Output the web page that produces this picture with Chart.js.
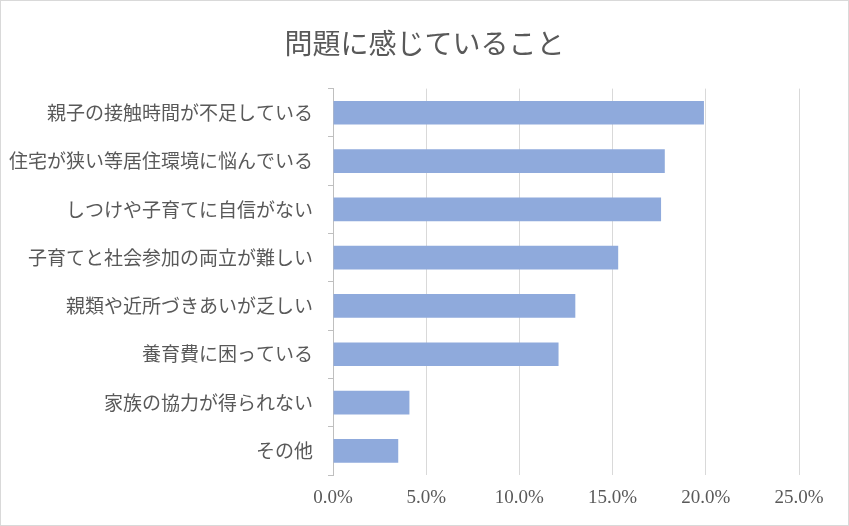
<!DOCTYPE html>
<html>
<head>
<meta charset="utf-8">
<script src="https://cdn.jsdelivr.net/npm/chart.js@4"></script>
<style>
  body { margin: 0; background: #fff; }
  #wrap { width: 849px; height: 526px; }
</style>
</head>
<body>
<div id="wrap"><canvas id="problemChart" width="849" height="526"></canvas></div>
<script>
// 問題に感じていること - horizontal bar chart
const categories = [
  "親子の接触時間が不足している",
  "住宅が狭い等居住環境に悩んでいる",
  "しつけや子育てに自信がない",
  "子育てと社会参加の両立が難しい",
  "親類や近所づきあいが乏しい",
  "養育費に困っている",
  "家族の協力が得られない",
  "その他",
];
const percentValues = [19.9, 17.8, 17.6, 15.3, 13.0, 12.1, 4.1, 3.5];
const tickMax = 25;
const tickStep = 5;

const textColor = "#595959";
const jpFont = "'Noto Sans CJK JP', sans-serif";

// white background and thin frame around the whole chart
const frame = {
  id: "frame",
  beforeDraw(chart) {
    const ctx = chart.ctx;
    ctx.save();
    ctx.fillStyle = "#ffffff";
    ctx.fillRect(0, 0, chart.width, chart.height);
    ctx.strokeStyle = "#d9d9d9";
    ctx.lineWidth = 1;
    ctx.strokeRect(0.5, 0.5, chart.width - 1, chart.height - 1);
    ctx.restore();
  },
};

const ctx = document.getElementById("problemChart").getContext("2d");
new Chart(ctx, {
  type: "bar",
  data: {
    labels: categories,
    datasets: [
      {
        label: "問題に感じていること",
        data: percentValues,
        backgroundColor: "#8faadc",
        barPercentage: 0.49,
        categoryPercentage: 1,
      },
    ],
  },
  options: {
    indexAxis: "y",
    responsive: false,
    animation: false,
    layout: {
      padding: 0,
    },
    scales: {
      x: {
        min: 0,
        max: tickMax,
        afterFit(scale) {
          scale.height = 51;
        },
        ticks: {
          stepSize: tickStep,
          padding: 12,
          color: textColor,
          font: { family: "'Liberation Serif', serif", size: 19 },
          callback: (v) => v.toFixed(1) + "%",
        },
        grid: {
          color: "#d9d9d9",
          drawTicks: false,
        },
        border: { display: false },
      },
      y: {
        afterFit(scale) {
          scale.width = 333;
        },
        ticks: {
          padding: 15,
          color: textColor,
          font: { family: jpFont, size: 19 },
        },
        grid: {
          drawOnChartArea: false,
          tickLength: 5,
          color: "#bfbfbf",
        },
        border: { display: true, color: "#bfbfbf" },
      },
      // empty right-hand axis: reserves the right margin so the title stays centred
      yRight: {
        position: "right",
        afterFit(scale) {
          scale.width = 50;
        },
        ticks: { display: false },
        grid: { display: false },
        border: { display: false },
      },
    },
    plugins: {
      legend: { display: false },
      tooltip: { enabled: false },
      title: {
        display: true,
        text: "問題に感じていること",
        color: textColor,
        font: { family: jpFont, size: 28, weight: "normal" },
        padding: { top: 27, bottom: 28 },
      },
    },
  },
  plugins: [frame],
});
</script>
</body>
</html>
